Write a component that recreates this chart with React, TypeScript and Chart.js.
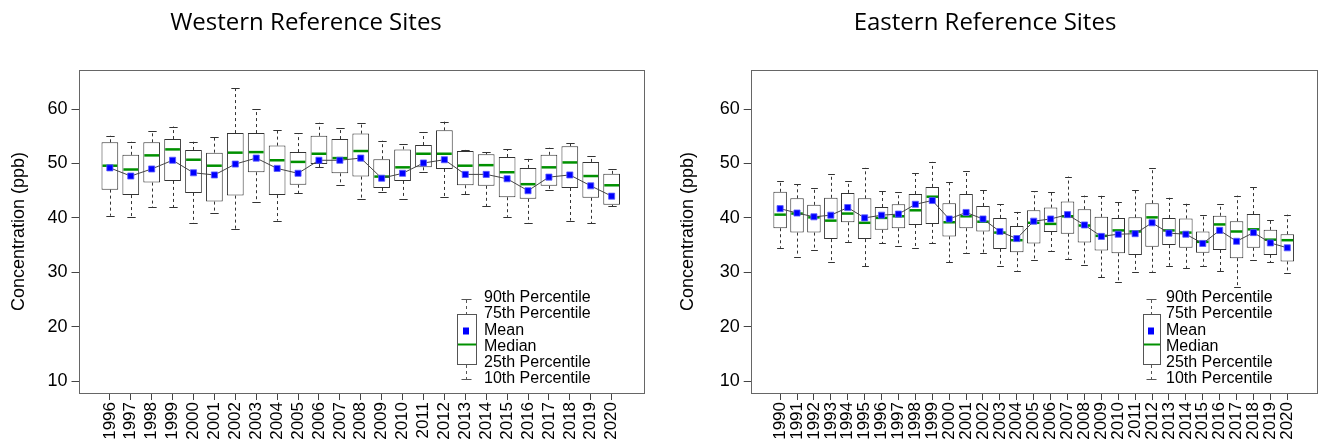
import React, { useEffect, useRef } from 'react';
import { Chart, registerables } from 'chart.js';

Chart.register(...registerables);

// ---------- Data ----------
const westYears = ['1996', '1997', '1998', '1999', '2000', '2001', '2002', '2003', '2004', '2005', '2006', '2007', '2008', '2009', '2010', '2011', '2012', '2013', '2014', '2015', '2016', '2017', '2018', '2019', '2020'];
const westP90 = [55.1, 54.0, 56.0, 56.8, 54.0, 54.8, 63.9, 60.0, 56.1, 55.6, 57.5, 56.6, 57.4, 54.2, 53.5, 55.8, 57.7, 52.5, 52.1, 52.6, 50.9, 52.9, 53.7, 51.3, 49.0];
const westP75 = [53.9, 51.6, 53.9, 54.5, 52.5, 52.0, 55.6, 55.6, 53.3, 52.1, 55.1, 54.5, 55.5, 50.8, 52.6, 53.4, 56.1, 52.3, 51.7, 51.2, 49.2, 51.6, 53.2, 50.3, 48.1];
const westMedian = [49.6, 48.9, 51.5, 52.6, 50.7, 49.6, 52.0, 52.1, 50.6, 50.3, 51.8, 51.0, 52.3, 47.6, 49.3, 51.8, 51.8, 49.6, 49.7, 48.4, 46.2, 49.3, 50.2, 47.7, 46.0];
const westMean = [49.2, 47.7, 49.0, 50.6, 48.3, 47.9, 49.9, 51.0, 49.1, 48.2, 50.6, 50.6, 51.0, 47.3, 48.2, 50.1, 50.7, 48.0, 48.0, 47.2, 45.0, 47.5, 47.9, 45.9, 44.0];
const westP25 = [45.2, 44.2, 46.5, 46.8, 44.6, 43.0, 44.1, 48.4, 44.2, 46.1, 49.9, 48.2, 47.6, 45.5, 46.8, 49.3, 49.0, 46.0, 45.9, 43.8, 43.5, 45.9, 45.5, 43.7, 42.4];
const westP10 = [40.4, 40.1, 42.0, 42.0, 39.0, 40.9, 38.0, 43.0, 39.5, 44.5, 49.3, 46.1, 43.5, 44.8, 43.5, 48.4, 43.8, 44.4, 42.2, 40.2, 39.0, 45.2, 39.5, 39.0, 42.1];

const eastYears = ['1990', '1991', '1992', '1993', '1994', '1995', '1996', '1997', '1998', '1999', '2000', '2001', '2002', '2003', '2004', '2005', '2006', '2007', '2008', '2009', '2010', '2011', '2012', '2013', '2014', '2015', '2016', '2017', '2018', '2019', '2020'];
const eastP90 = [46.8, 46.2, 45.5, 48.0, 46.8, 49.2, 44.9, 44.7, 48.2, 50.3, 46.6, 48.7, 45.2, 42.5, 41.1, 44.9, 44.8, 47.6, 44.1, 44.1, 43.0, 45.1, 49.1, 43.7, 42.6, 40.5, 42.6, 44.1, 45.7, 39.6, 40.6];
const eastP75 = [44.8, 43.6, 42.4, 43.7, 44.6, 43.6, 42.0, 42.5, 44.4, 45.7, 42.7, 44.4, 42.2, 40.0, 38.5, 41.4, 41.9, 43.0, 41.6, 40.2, 40.0, 40.1, 42.7, 40.0, 39.9, 37.5, 40.4, 39.4, 40.7, 37.8, 37.0];
const eastMedian = [40.6, 40.8, 40.1, 39.5, 40.8, 39.1, 40.0, 40.3, 41.4, 43.9, 39.2, 40.3, 39.3, 37.3, 35.9, 39.1, 38.9, 40.3, 38.6, 36.7, 37.7, 37.5, 40.1, 37.7, 37.3, 35.6, 38.8, 37.5, 37.9, 36.0, 35.9];
const eastMean = [41.7, 40.9, 40.2, 40.5, 41.9, 40.0, 40.5, 40.7, 42.5, 43.2, 39.8, 41.0, 39.8, 37.5, 36.2, 39.4, 39.8, 40.6, 38.7, 36.6, 37.0, 37.1, 39.1, 37.2, 37.0, 35.3, 37.7, 35.7, 37.3, 35.4, 34.5];
const eastP25 = [38.1, 37.3, 37.3, 36.1, 39.2, 36.1, 37.8, 38.1, 38.7, 38.9, 36.6, 38.1, 37.5, 34.3, 33.7, 35.3, 37.4, 37.1, 35.5, 34.0, 33.5, 33.2, 34.7, 35.0, 34.5, 33.6, 34.1, 32.6, 34.5, 33.2, 32.0];
const eastP10 = [34.5, 32.9, 34.1, 31.9, 35.6, 31.1, 35.3, 34.9, 34.5, 35.4, 31.8, 33.6, 33.6, 31.1, 30.3, 32.3, 34.0, 32.5, 31.4, 29.1, 28.3, 30.1, 30.1, 31.2, 30.8, 31.2, 30.2, 27.3, 32.3, 31.8, 29.8];

const yTickValues = [10, 20, 30, 40, 50, 60];
const yLimits = [10, 65];
const legendLabels = ['90th Percentile', '75th Percentile', 'Mean', 'Median', '25th Percentile', '10th Percentile'];
const yAxisTitle = 'Concentration (ppb)';

// ---------- Styles ----------
const AXIS_FONT = '"Liberation Sans", Arial, sans-serif';
const TITLE_FONT = '"Open Sans", "Noto Sans", sans-serif';
const BOX_COLOR = '#333333';
const MEDIAN_COLOR = '#009000';
const MEAN_COLOR = '#0000ff';
const FRAME_COLOR = '#666666';

type PanelProps = {
  years: string[];
  p10: number[];
  p25: number[];
  median: number[];
  mean: number[];
  p75: number[];
  p90: number[];
  title: string;
  left: number;
  yAxisWidth: number;
  padRight: number;
  yTitlePad: number;
  titleX: number;
  legendTextX: number;
  legendSymX: number;
  legendBoxW: number;
};

function BoxPanel(props: PanelProps) {
  const ref = useRef<HTMLCanvasElement | null>(null);

  useEffect(() => {
    const canvas = ref.current;
    if (!canvas) return;
    const n = props.years.length;
    const xPad = n * 0.04;
    const yRange = yLimits[1] - yLimits[0];

    const extras = {
      id: 'boxExtras',
      beforeDatasetsDraw(chart: any) {
        const ctx = chart.ctx;
        const xs = chart.scales.x;
        const ys = chart.scales.y;
        const unit = xs.getPixelForValue(1) - xs.getPixelForValue(0);
        const half = unit * 0.8 / 2;
        const cap = half * 0.5;
        ctx.save();
        ctx.strokeStyle = BOX_COLOR;
        ctx.lineWidth = 1;
        for (let i = 0; i < n; i++) {
          const x = Math.round(xs.getPixelForValue(i + 1)) + 0.5;
          const y90 = ys.getPixelForValue(props.p90[i]);
          const y75 = ys.getPixelForValue(props.p75[i]);
          const y25 = ys.getPixelForValue(props.p25[i]);
          const y10 = ys.getPixelForValue(props.p10[i]);
          ctx.setLineDash([3, 3]);
          ctx.beginPath();
          ctx.moveTo(x, y75);
          ctx.lineTo(x, y90);
          ctx.moveTo(x, y25);
          ctx.lineTo(x, y10);
          ctx.stroke();
          ctx.setLineDash([]);
          ctx.beginPath();
          ctx.moveTo(x - cap, Math.round(y90) + 0.5);
          ctx.lineTo(x + cap, Math.round(y90) + 0.5);
          ctx.moveTo(x - cap, Math.round(y10) + 0.5);
          ctx.lineTo(x + cap, Math.round(y10) + 0.5);
          ctx.stroke();
        }
        ctx.restore();
      },
      afterDatasetDraw(chart: any, args: any) {
        if (args.index !== 1) return;
        const ctx = chart.ctx;
        const xs = chart.scales.x;
        const ys = chart.scales.y;
        const unit = xs.getPixelForValue(1) - xs.getPixelForValue(0);
        const half = unit * 0.8 / 2;
        ctx.save();
        ctx.strokeStyle = MEDIAN_COLOR;
        ctx.lineWidth = 2.5;
        for (let i = 0; i < n; i++) {
          const x = xs.getPixelForValue(i + 1);
          const y = ys.getPixelForValue(props.median[i]);
          ctx.beginPath();
          ctx.moveTo(x - half + 1, y);
          ctx.lineTo(x + half - 1, y);
          ctx.stroke();
        }
        ctx.restore();
      },
      afterDraw(chart: any) {
        const ctx = chart.ctx;
        const a = chart.chartArea;
        ctx.save();
        // frame
        ctx.strokeStyle = FRAME_COLOR;
        ctx.lineWidth = 1;
        ctx.strokeRect(Math.round(a.left) + 0.5, Math.round(a.top) + 0.5, Math.round(a.right - a.left), Math.round(a.bottom - a.top));
        // title
        ctx.fillStyle = '#000';
        ctx.font = '24px ' + TITLE_FONT;
        ctx.textAlign = 'center';
        ctx.textBaseline = 'middle';
        ctx.fillText(props.title, props.titleX, 23);
        // legend
        const lineYs = [298, 314, 330.5, 346.5, 363, 379];
        ctx.font = '16px ' + AXIS_FONT;
        ctx.textAlign = 'left';
        ctx.fillStyle = '#000';
        legendLabels.forEach((t, k) => ctx.fillText(t, props.legendTextX, lineYs[k]));
        const sx = Math.round(props.legendSymX) + 0.5;
        const bw = props.legendBoxW;
        const capW = 5;
        ctx.strokeStyle = '#555';
        ctx.lineWidth = 1;
        ctx.beginPath();
        ctx.moveTo(sx - capW, 299.5);
        ctx.lineTo(sx + capW, 299.5);
        ctx.moveTo(sx - capW, 379.5);
        ctx.lineTo(sx + capW, 379.5);
        ctx.stroke();
        ctx.setLineDash([3, 3]);
        ctx.beginPath();
        ctx.moveTo(sx, 300);
        ctx.lineTo(sx, 314);
        ctx.moveTo(sx, 365);
        ctx.lineTo(sx, 379);
        ctx.stroke();
        ctx.setLineDash([]);
        ctx.strokeRect(Math.round(sx - bw / 2) + 0.5, 314.5, bw, 50);
        ctx.fillStyle = MEAN_COLOR;
        ctx.fillRect(sx - 3.5, 327.5, 6, 7);
        ctx.strokeStyle = MEDIAN_COLOR;
        ctx.lineWidth = 2;
        ctx.beginPath();
        ctx.moveTo(sx - bw / 2 + 1, 344.5);
        ctx.lineTo(sx + bw / 2, 344.5);
        ctx.stroke();
        ctx.restore();
      },
    };

    const chart = new Chart(canvas, {
      type: 'bar',
      data: {
        datasets: [
          {
            type: 'line',
            label: 'Mean',
            data: props.mean.map((v, i) => ({ x: i + 1, y: v })),
            borderColor: '#444444',
            borderWidth: 1,
            pointStyle: 'rect',
            pointRadius: 4.3,
            pointBackgroundColor: MEAN_COLOR,
            pointBorderColor: 'rgba(90,90,255,0.8)',
            pointBorderWidth: 1,
            tension: 0,
          } as any,
          {
            type: 'bar',
            label: 'Box',
            data: props.p25.map((v, i) => ({ x: i + 1, y: [v, props.p75[i]] })),
            backgroundColor: '#ffffff',
            borderColor: BOX_COLOR,
            borderWidth: 1,
            borderSkipped: false,
            barPercentage: 1,
            categoryPercentage: 0.8,
          } as any,
        ],
      },
      options: {
        animation: false,
        responsive: false,
        events: [],
        layout: { padding: { left: 0, top: 70, right: props.padRight, bottom: 0 } },
        plugins: {
          legend: { display: false },
          tooltip: { enabled: false },
          title: { display: false },
        },
        scales: {
          x: {
            type: 'linear',
            min: 1 - 0.5 - xPad,
            max: n + 0.5 + xPad,
            offset: false,
            afterFit(scale: any) {
              scale.height = 51;
            },
            afterBuildTicks(scale: any) {
              scale.ticks = props.years.map((_, i) => ({ value: i + 1 }));
            },
            ticks: {
              autoSkip: false,
              minRotation: 90,
              maxRotation: 90,
              padding: 2,
              color: '#000',
              font: { family: AXIS_FONT, size: 17 },
              callback: (v: any) => props.years[Number(v) - 1] ?? '',
            },
            grid: { display: true, offset: false, drawOnChartArea: false, drawTicks: true, tickLength: 7, color: '#444' },
            border: { display: false },
          },
          y: {
            type: 'linear',
            min: yLimits[0] - yRange * 0.04,
            max: yLimits[1] + yRange * 0.04,
            afterFit(scale: any) {
              scale.width = props.yAxisWidth;
            },
            afterBuildTicks(scale: any) {
              scale.ticks = yTickValues.map((v) => ({ value: v }));
            },
            ticks: {
              padding: 4,
              color: '#000',
              font: { family: AXIS_FONT, size: 18 },
              callback: (v: any) => String(v),
            },
            title: {
              display: true,
              text: yAxisTitle,
              color: '#000',
              font: { family: AXIS_FONT, size: 18 },
              padding: { top: props.yTitlePad, bottom: 0 },
            },
            grid: { display: true, offset: false, drawOnChartArea: false, drawTicks: true, tickLength: 7, color: '#444' },
            border: { display: false },
          },
        },
      },
      plugins: [extras as any],
    });
    return () => chart.destroy();
  }, []);

  return (
    <canvas
      ref={ref}
      width={661}
      height={444}
      style={{ position: 'absolute', left: props.left, top: 0, width: 661, height: 444 }}
    />
  );
}

export default function App() {
  return (
    <div style={{ position: 'fixed', left: 0, top: 0, width: 1322, height: 444, background: '#fff' }}>
      <BoxPanel
        years={westYears}
        p10={westP10}
        p25={westP25}
        median={westMedian}
        mean={westMean}
        p75={westP75}
        p90={westP90}
        title="Western Reference Sites"
        left={0}
        yAxisWidth={78.5}
        padRight={18}
        yTitlePad={8}
        titleX={306}
        legendTextX={484}
        legendSymX={465.5}
        legendBoxW={19}
      />
      <BoxPanel
        years={eastYears}
        p10={eastP10}
        p25={eastP25}
        median={eastMedian}
        mean={eastMean}
        p75={eastP75}
        p90={eastP90}
        title="Eastern Reference Sites"
        left={661}
        yAxisWidth={89.7}
        padRight={3}
        yTitlePad={16}
        titleX={324}
        legendTextX={505}
        legendSymX={490}
        legendBoxW={17}
      />
    </div>
  );
}
